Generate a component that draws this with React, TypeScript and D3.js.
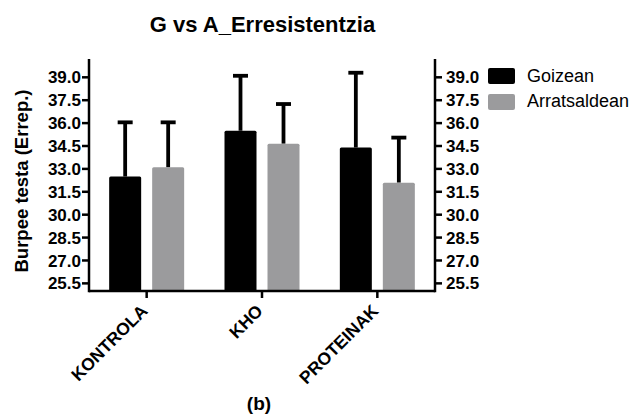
import React from "react";
import * as d3 from "d3";

const categories = ["KONTROLA", "KHO", "PROTEINAK"];
const seriesNames = ["Goizean", "Arratsaldean"];
const goizeanMeans = [32.5, 35.5, 34.4];
const goizeanErr = [3.55, 3.6, 4.9];
const arratsMeans = [33.1, 34.65, 32.1];
const arratsErr = [2.95, 2.6, 2.95];
const yTicks = [25.5, 27.0, 28.5, 30.0, 31.5, 33.0, 34.5, 36.0, 37.5, 39.0];
const colors = ["#000000", "#9b9b9d"];

const FONT = "'Liberation Sans', Arial, sans-serif";

export default function App() {
  const left = 89;
  const right = 435;
  const top = 59;
  const bottom = 291;

  const y = d3.scaleLinear().domain([25, 40.2]).range([bottom, top]);
  const x0 = d3.scaleBand<string>().domain(categories).range([left, right]).padding(0);
  const x1 = d3
    .scaleBand<string>()
    .domain(seriesNames)
    .range([-37.5, 37.5])
    .paddingInner(11 / 43)
    .paddingOuter(0);

  const series = [
    { name: seriesNames[0], means: goizeanMeans, errs: goizeanErr, color: colors[0] },
    { name: seriesNames[1], means: arratsMeans, errs: arratsErr, color: colors[1] },
  ];

  const bw = x1.bandwidth();

  return (
    <svg
      width={635}
      height={418}
      style={{ position: "absolute", left: 0, top: 0, background: "#fff" }}
      fontFamily={FONT}
    >
      <rect x={0} y={0} width={635} height={418} fill="#fff" />
      <text x={262.5} y={32} textAnchor="middle" fontSize={22} fontWeight="bold">
        G vs A_Erresistentzia
      </text>

      {/* bars */}
      {categories.map((c, i) => {
        const cx = x0(c)! + x0.bandwidth() / 2;
        return (
          <g key={c}>
            {series.map((s) => {
              const bx = cx + x1(s.name)!;
              const mid = bx + bw / 2;
              const yTop = y(s.means[i]);
              const yErr = y(s.means[i] + s.errs[i]);
              return (
                <g key={s.name}>
                  <line x1={mid} x2={mid} y1={yTop} y2={yErr} stroke="#000" strokeWidth={3.8} />
                  <line x1={mid - 7.5} x2={mid + 7.5} y1={yErr} y2={yErr} stroke="#000" strokeWidth={3.8} />
                  <rect x={bx} y={yTop} width={bw} height={bottom - yTop} fill={s.color} rx={1.5} />
                </g>
              );
            })}
          </g>
        );
      })}

      {/* axes */}
      <g stroke="#000" strokeWidth={2.5} fill="none">
        <line x1={left} x2={left} y1={top} y2={bottom + 1.25} />
        <line x1={right} x2={right} y1={top} y2={bottom + 1.25} />
        <line x1={left} x2={right} y1={bottom} y2={bottom} />
      </g>
      {yTicks.map((t) => (
        <g key={t}>
          <line x1={left - 7} x2={left} y1={y(t)} y2={y(t)} stroke="#000" strokeWidth={2.5} />
          <text x={left - 8} y={y(t)} dy="0.36em" textAnchor="end" fontSize={17} fontWeight="bold">
            {t.toFixed(1)}
          </text>
          <line x1={right} x2={right + 7} y1={y(t)} y2={y(t)} stroke="#000" strokeWidth={2.5} />
          <text x={right + 11} y={y(t)} dy="0.36em" textAnchor="start" fontSize={17} fontWeight="bold">
            {t.toFixed(1)}
          </text>
        </g>
      ))}
      {categories.map((c) => {
        const cx = x0(c)! + x0.bandwidth() / 2;
        return (
          <g key={c}>
            <line x1={cx} x2={cx} y1={bottom} y2={bottom + 7} stroke="#000" strokeWidth={2.5} />
            <text
              transform={`translate(${cx + 2},${bottom + 21}) rotate(-45)`}
              textAnchor="end"
              fontSize={17.5}
              fontWeight="bold"
            >
              {c}
            </text>
          </g>
        );
      })}

      <text
        transform={`translate(28,181) rotate(-90)`}
        textAnchor="middle"
        fontSize={18.5}
        fontWeight="bold"
      >
        Burpee testa (Errep.)
      </text>

      {/* legend */}
      {series.map((s, i) => (
        <g key={s.name}>
          <rect x={488} y={68 + i * 26} width={27} height={16} fill={s.color} rx={2} />
          <text x={527} y={82 + i * 24.5} fontSize={18}>
            {s.name}
          </text>
        </g>
      ))}

      <text x={259} y={410} textAnchor="middle" fontSize={19} fontWeight="bold">
        (b)
      </text>
    </svg>
  );
}
